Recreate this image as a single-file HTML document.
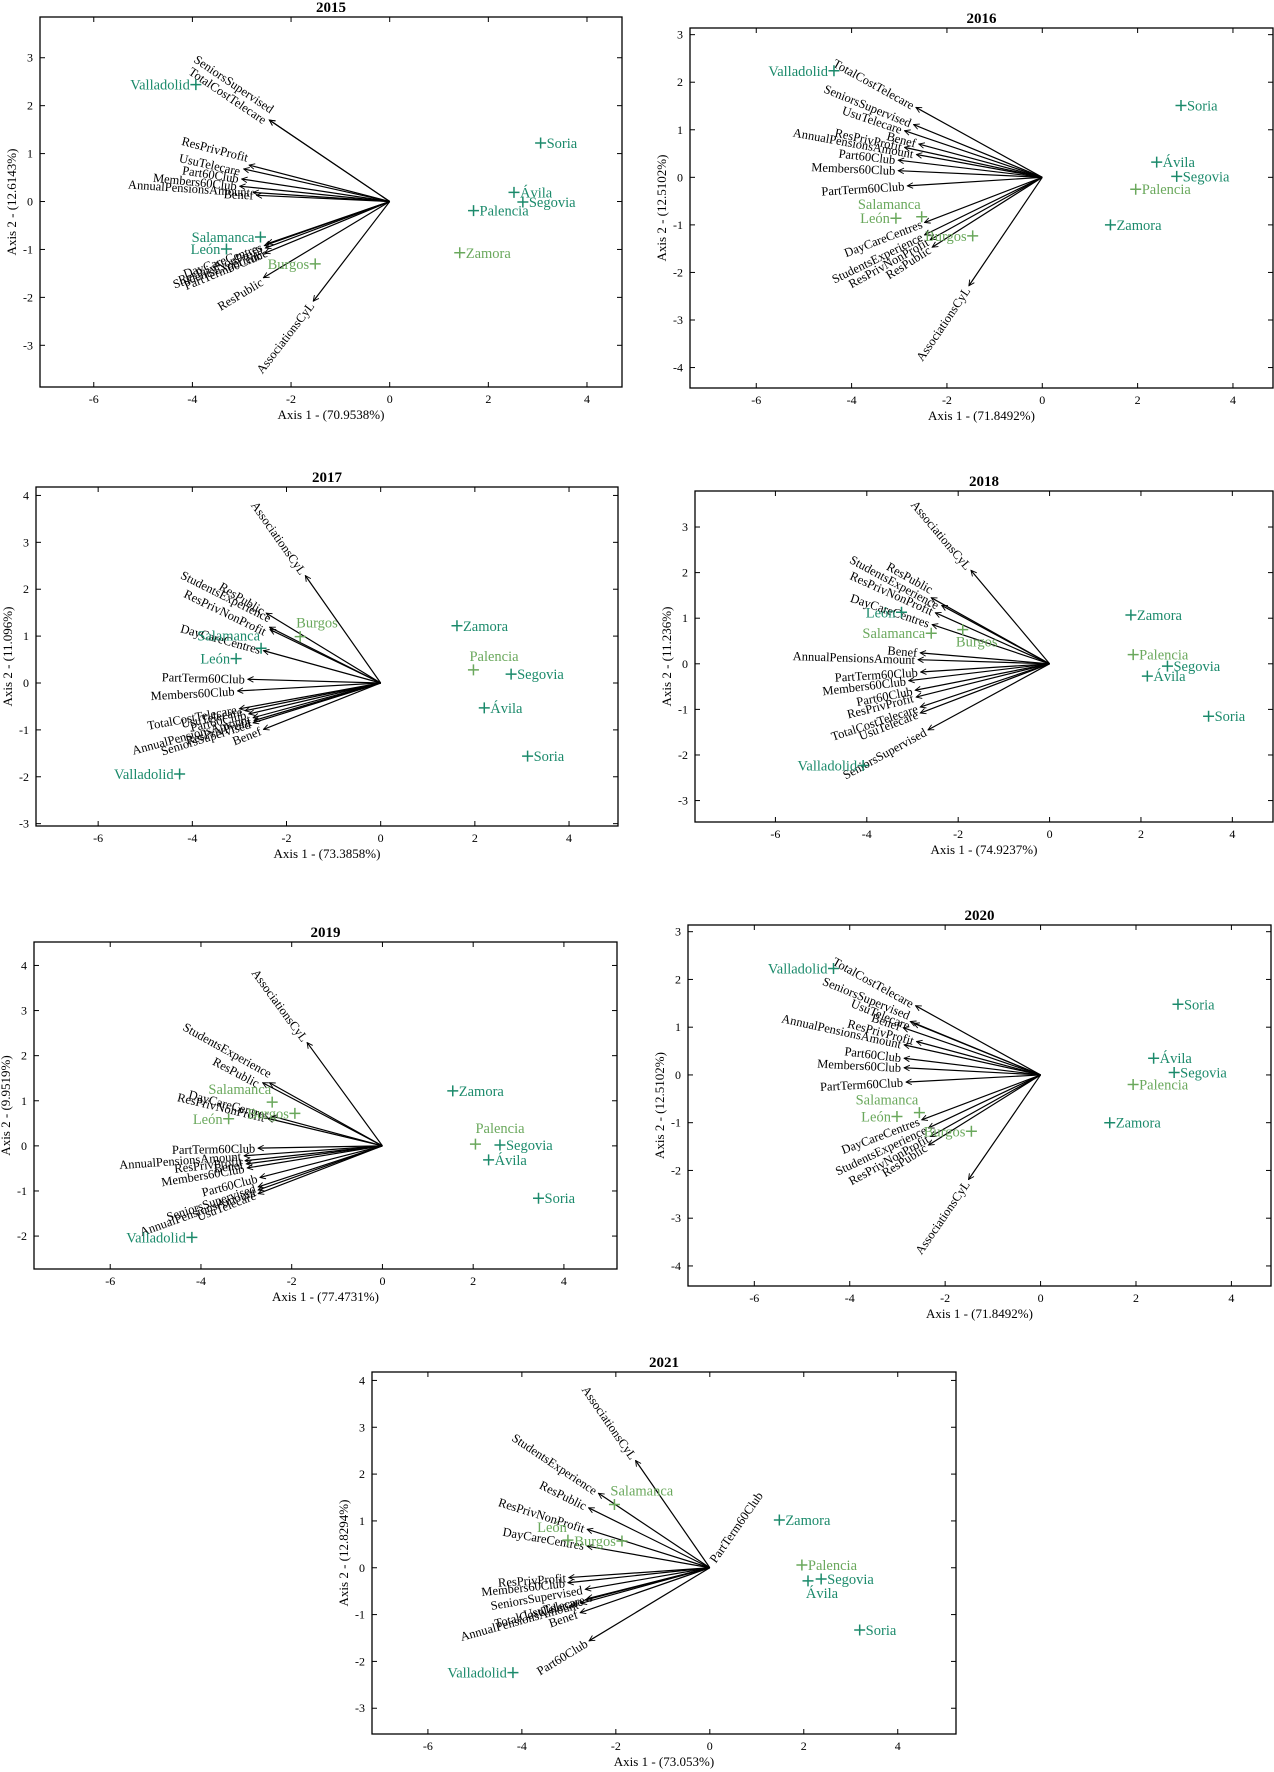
<!DOCTYPE html>
<html><head><meta charset="utf-8">
<style>
html,body{margin:0;padding:0;background:#fff;}
svg{display:block;}
text{font-family:"Liberation Serif",serif;}
</style></head>
<body>
<svg id="chart" width="1274" height="1772" viewBox="0 0 1274 1772" xmlns="http://www.w3.org/2000/svg">
<defs>
<marker id="ah" viewBox="0 0 10 10" refX="9" refY="5" markerWidth="7" markerHeight="7" orient="auto" markerUnits="userSpaceOnUse">
<path d="M1,1 L9,5 L1,9" fill="none" stroke="#000" stroke-width="1.3"/>
</marker>
</defs>
</svg>
<script>
const siteNames = ["Valladolid","Soria","Ávila","Segovia","Palencia","Zamora","Salamanca","León","Burgos"];
const xTicks = [-6,-4,-2,0,2,4];

const years = ["2015","2016","2017","2018","2019","2020","2021"];
const xTitles = ["Axis 1 - (70.9538%)","Axis 1 - (71.8492%)","Axis 1 - (73.3858%)","Axis 1 - (74.9237%)","Axis 1 - (77.4731%)","Axis 1 - (71.8492%)","Axis 1 - (73.053%)"];
const yTitles = ["Axis 2 - (12.6143%)","Axis 2 - (12.5102%)","Axis 2 - (11.096%)","Axis 2 - (11.236%)","Axis 2 - (9.9519%)","Axis 2 - (12.5102%)","Axis 2 - (12.8294%)"];
const yTicks2015 = [-3,-2,-1,0,1,2,3];
const yTicks2016 = [-4,-3,-2,-1,0,1,2,3];
const yTicks2017 = [-3,-2,-1,0,1,2,3,4];
const yTicks2018 = [-3,-2,-1,0,1,2,3];
const yTicks2019 = [-2,-1,0,1,2,3,4];
const yTicks2020 = [-4,-3,-2,-1,0,1,2,3];
const yTicks2021 = [-3,-2,-1,0,1,2,3,4];

const siteX2015 = [-3.93,3.06,2.52,2.70,1.70,1.42,-2.62,-3.31,-1.51];
const siteY2015 = [2.44,1.22,0.19,-0.01,-0.19,-1.07,-0.74,-0.99,-1.30];
const siteX2016 = [-4.37,2.91,2.40,2.82,1.96,1.43,-2.53,-3.07,-1.46];
const siteY2016 = [2.24,1.51,0.32,0.02,-0.25,-1.00,-0.83,-0.86,-1.23];
const siteX2017 = [-4.27,3.12,2.20,2.77,1.97,1.62,-2.54,-3.07,-1.71];
const siteY2017 = [-1.94,-1.56,-0.53,0.19,0.28,1.22,0.74,0.52,0.99];
const siteX2018 = [-4.08,3.48,2.14,2.58,1.83,1.78,-2.59,-3.24,-1.90];
const siteY2018 = [-2.23,-1.15,-0.27,-0.05,0.20,1.07,0.67,1.13,0.75];
const siteX2019 = [-4.20,3.44,2.34,2.59,2.05,1.55,-2.43,-3.39,-1.93];
const siteY2019 = [-2.03,-1.16,-0.31,0.02,0.04,1.22,0.97,0.60,0.72];
const siteX2020 = [-4.34,2.88,2.37,2.80,1.94,1.45,-2.54,-3.01,-1.45];
const siteY2020 = [2.23,1.48,0.35,0.05,-0.20,-1.00,-0.79,-0.87,-1.18];
const siteX2021 = [-4.19,3.19,2.09,2.37,1.96,1.48,-2.03,-3.02,-1.87];
const siteY2021 = [-2.24,-1.33,-0.28,-0.24,0.06,1.02,1.35,0.59,0.57];

const varNames2015 = ["SeniorsSupervised","TotalCostTelecare","ResPrivProfit","UsuTelecare","Part60Club","Members60Club","AnnualPensionsAmount","Benef","DayCareCentres","ResPrivNonProfit","PartTerm60Club","StudentsExperience","ResPublic","AssociationsCyL"];
const varX2015 = [-2.44,-2.44,-2.85,-2.96,-3.00,-3.04,-2.77,-2.70,-2.54,-2.52,-2.54,-2.48,-2.56,-1.55];
const varY2015 = [1.70,1.70,0.76,0.68,0.47,0.32,0.19,0.13,-0.92,-0.97,-1.08,-0.88,-1.59,-2.08];

const varNames2016 = ["TotalCostTelecare","SeniorsSupervised","UsuTelecare","Benef","ResPrivProfit","AnnualPensionsAmount","Part60Club","Members60Club","PartTerm60Club","DayCareCentres","StudentsExperience","ResPrivNonProfit","ResPublic","AssociationsCyL"];
const varX2016 = [-2.65,-2.70,-2.89,-2.59,-2.89,-2.64,-3.02,-3.02,-2.83,-2.47,-2.47,-2.35,-2.31,-1.54];
const varY2016 = [1.47,1.11,0.98,0.70,0.63,0.48,0.36,0.14,-0.18,-0.95,-1.21,-1.31,-1.47,-2.28];

const varNames2017 = ["AssociationsCyL","ResPublic","StudentsExperience","ResPrivNonProfit","DayCareCentres","PartTerm60Club","Members60Club","TotalCostTelecare","UsuTelecare","Part60Club","AnnualPensionsAmount","ResPrivProfit","SeniorsSupervised","Benef"];
const varX2017 = [-1.60,-2.43,-2.36,-2.35,-2.49,-2.82,-3.04,-3.00,-2.88,-2.80,-2.71,-2.69,-2.71,-2.49];
const varY2017 = [2.29,1.49,1.19,1.14,0.69,0.08,-0.17,-0.55,-0.59,-0.66,-0.74,-0.80,-0.85,-0.99];

const varNames2018 = ["AssociationsCyL","ResPublic","StudentsExperience","ResPrivNonProfit","DayCareCentres","Benef","AnnualPensionsAmount","PartTerm60Club","Members60Club","Part60Club","ResPrivProfit","TotalCostTelecare","UsuTelecare","SeniorsSupervised"];
const varX2018 = [-1.72,-2.59,-2.36,-2.50,-2.57,-2.83,-2.88,-2.82,-3.08,-2.94,-2.92,-2.83,-2.83,-2.66];
const varY2018 = [2.05,1.45,1.28,1.12,0.86,0.24,0.09,-0.18,-0.37,-0.58,-0.73,-0.95,-1.08,-1.45];

const varNames2019 = ["AssociationsCyL","StudentsExperience","ResPublic","DayCareCentres","ResPrivNonProfit","PartTerm60Club","AnnualPensionsAmount","ResPrivProfit","Benef","Members60Club","Part60Club","SeniorsSupervised","AnnualPensionsAmount","UsuTelecare"];
const varX2019 = [-1.66,-2.49,-2.64,-2.44,-2.53,-2.74,-3.05,-3.03,-3.00,-2.98,-2.70,-2.74,-2.74,-2.74];
const varY2019 = [2.29,1.40,1.40,0.66,0.61,-0.05,-0.22,-0.33,-0.40,-0.49,-0.70,-0.91,-0.98,-1.06];

const varNames2020 = ["TotalCostTelecare","SeniorsSupervised","UsuTelecare","Benef","ResPrivProfit","AnnualPensionsAmount","Part60Club","Members60Club","PartTerm60Club","DayCareCentres","StudentsExperience","ResPrivNonProfit","ResPublic","AssociationsCyL"];
const varX2020 = [-2.62,-2.73,-2.66,-2.88,-2.60,-2.86,-2.86,-2.86,-2.82,-2.49,-2.35,-2.31,-2.35,-1.51];
const varY2020 = [1.45,1.12,1.08,0.99,0.70,0.63,0.35,0.15,-0.15,-0.94,-1.11,-1.29,-1.47,-2.19];

const varNames2021 = ["AssociationsCyL","StudentsExperience","ResPublic","ResPrivNonProfit","DayCareCentres","PartTerm60Club","ResPrivProfit","Members60Club","SeniorsSupervised","UsuTelecare","TotalCostTelecare","AnnualPensionsAmount","Benef","Part60Club"];
const varX2021 = [-1.58,-2.37,-2.58,-2.61,-2.61,0.04,-3.00,-3.02,-2.65,-2.61,-2.65,-2.74,-2.76,-2.57];
const varY2021 = [2.29,1.59,1.28,0.82,0.46,0.05,-0.21,-0.32,-0.46,-0.66,-0.69,-0.76,-0.96,-1.56];

/* style / layout (not data) */
const frames = [
 {L:40,R:622,T:17,B:387,x0:-7.09,x1:4.71,y0:-3.87,y1:3.85},
 {L:690,R:1273,T:28,B:388,x0:-7.39,x1:4.84,y0:-4.43,y1:3.14},
 {L:36,R:618,T:487,B:826,x0:-7.32,x1:5.04,y0:-3.05,y1:4.18},
 {L:695,R:1273,T:491,B:822,x0:-7.76,x1:4.89,y0:-3.47,y1:3.79},
 {L:34,R:617,T:942,B:1269,x0:-7.68,x1:5.17,y0:-2.73,y1:4.52},
 {L:688,R:1271,T:925,B:1286,x0:-7.39,x1:4.83,y0:-4.42,y1:3.14},
 {L:372,R:956,T:1372,B:1734,x0:-7.19,x1:5.24,y0:-3.55,y1:4.18}
];
const tones = [
 "dddddlddl","ddddldlll","ddddldddl","ddddldldl","ddddldlll","ddddldlll","ddddldlll"
];
const labelPos = [
 ["l","r","r","r","r","r","l","l","l"],
 ["l","r","r","r","r","r","al","l","l"],
 ["l","r","r","r","ar","r","al","l","ar"],
 ["l","r","r","r","r","r","l","l","b"],
 ["l","r","r","r","a","r","al","l","l"],
 ["l","r","r","r","r","r","al","l","l"],
 ["l","r","b","r","r","r","ar","al","l"]
];
/* perpendicular label nudges in px, keyed "panel:index" */
const nudge = {"0:0":-10,"0:1":3,"0:2":-7,"0:3":3,"0:11":8,"0:12":2,
  "2:2":-8,"2:3":4,"4:1":-8,"4:2":3,"5:1":-5,"5:2":4,"3:1":-7,"3:2":2};
const DARK = "#1b8a6b", LIGHT = "#6aa85c";

const svg = document.getElementById('chart');
const NS = "http://www.w3.org/2000/svg";
function mk(tag, attrs, parent){
  const e = document.createElementNS(NS, tag);
  for (const k in attrs) e.setAttribute(k, attrs[k]);
  parent.appendChild(e);
  return e;
}

const allYTicks = [yTicks2015,yTicks2016,yTicks2017,yTicks2018,yTicks2019,yTicks2020,yTicks2021];
const allSX = [siteX2015,siteX2016,siteX2017,siteX2018,siteX2019,siteX2020,siteX2021];
const allSY = [siteY2015,siteY2016,siteY2017,siteY2018,siteY2019,siteY2020,siteY2021];
const allVN = [varNames2015,varNames2016,varNames2017,varNames2018,varNames2019,varNames2020,varNames2021];
const allVX = [varX2015,varX2016,varX2017,varX2018,varX2019,varX2020,varX2021];
const allVY = [varY2015,varY2016,varY2017,varY2018,varY2019,varY2020,varY2021];

years.forEach((yr, p) => {
  const f = frames[p];
  const sx = v => f.L + (v - f.x0) / (f.x1 - f.x0) * (f.R - f.L);
  const sy = v => f.B - (v - f.y0) / (f.y1 - f.y0) * (f.B - f.T);
  const g = mk('g', {}, svg);
  
  

  const title = mk('text', {x:(f.L+f.R)/2, y:f.T-5, 'text-anchor':'middle', 'font-size':'15', 'font-weight':'bold'}, g);
  title.textContent = yr;
  
  

  const frame = mk('rect', {x:f.L, y:f.T, width:f.R-f.L, height:f.B-f.T, fill:'none', stroke:'#000', 'stroke-width':'1.3'}, g);
  
  

  xTicks.forEach(t => {
    const x = sx(t);
    mk('line', {x1:x, y1:f.B, x2:x, y2:f.B-5, stroke:'#000', 'stroke-width':'1'}, g);
    mk('line', {x1:x, y1:f.T, x2:x, y2:f.T+5, stroke:'#000', 'stroke-width':'1'}, g);
    const tl = mk('text', {x:x, y:f.B+16, 'text-anchor':'middle', 'font-size':'12'}, g);
    tl.textContent = String(t);
    
    
  });
  allYTicks[p].forEach(t => {
    const y = sy(t);
    mk('line', {x1:f.L, y1:y, x2:f.L+5, y2:y, stroke:'#000', 'stroke-width':'1'}, g);
    mk('line', {x1:f.R, y1:y, x2:f.R-5, y2:y, stroke:'#000', 'stroke-width':'1'}, g);
    const tl = mk('text', {x:f.L-7, y:y+4, 'text-anchor':'end', 'font-size':'12'}, g);
    tl.textContent = String(t);
    
    
  });

  const xt = mk('text', {x:(f.L+f.R)/2, y:f.B+32, 'text-anchor':'middle', 'font-size':'13'}, g);
  xt.textContent = xTitles[p];
  
  
  const ycx = f.L - 24, ycy = (f.T+f.B)/2;
  const yt = mk('text', {x:ycx, y:ycy, 'text-anchor':'middle', 'font-size':'13', transform:'rotate(-90 '+ycx+' '+ycy+')'}, g);
  yt.textContent = yTitles[p];
  
  

  const ox = sx(0), oy = sy(0);
  allVN[p].forEach((name, i) => {
    const tx = sx(allVX[p][i]), ty = sy(allVY[p][i]);
    const len = Math.hypot(tx-ox, ty-oy);
    if (len > 8) {
      const ln = mk('line', {x1:ox, y1:oy, x2:tx, y2:ty, stroke:'#000', 'stroke-width':'1.2', 'marker-end':'url(#ah)'}, g);
      
      
    }
    let ux = (tx-ox)/(len||1), uy = (ty-oy)/(len||1);
    let lab;
    if (allVX[p][i] >= 0) {
      const a = -55;
      lab = mk('text', {x:ox+6, y:oy-4, 'text-anchor':'start', 'font-size':'12.5', transform:'rotate('+a+' '+(ox+6)+' '+(oy-4)+')'}, g);
    } else {
      const ang = Math.atan2(-uy, -ux) * 180 / Math.PI;
      const lx = tx + ux*3, ly = ty + uy*3;
      const n = nudge[p+':'+i] || 0;
      lab = mk('text', {x:lx, y:ly+n, dy:'0.35em', 'text-anchor':'end', 'font-size':'12.5', transform:'rotate('+ang.toFixed(1)+' '+lx.toFixed(1)+' '+ly.toFixed(1)+')'}, g);
    }
    lab.textContent = name;
    
    
  });

  siteNames.forEach((name, i) => {
    const x = sx(allSX[p][i]), y = sy(allSY[p][i]);
    const col = tones[p][i] === 'd' ? DARK : LIGHT;
    const pl = mk('path', {d:'M'+(x-5.5)+','+y+' H'+(x+5.5)+' M'+x+','+(y-5.5)+' V'+(y+5.5), stroke:col, 'stroke-width':'1.5', fill:'none'}, g);
    
    
    const pos = labelPos[p][i];
    let a = {x:x+6, y:y+5, 'text-anchor':'start'};
    if (pos === 'l') a = {x:x-6, y:y+5, 'text-anchor':'end'};
    else if (pos === 'al') a = {x:x-1, y:y-8, 'text-anchor':'end'};
    else if (pos === 'ar') a = {x:x-4, y:y-9, 'text-anchor':'start'};
    else if (pos === 'a') a = {x:x, y:y-11, 'text-anchor':'start'};
    else if (pos === 'b') a = {x:x+14, y:y+17, 'text-anchor':'middle'};
    a['font-size'] = '14.5';
    a.fill = col;
    const t = mk('text', a, g);
    t.textContent = name;
    
    
  });
});
</script>
</body></html>
